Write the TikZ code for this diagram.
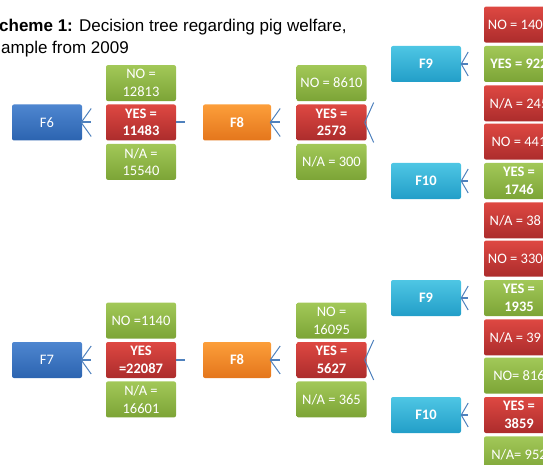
\documentclass[tikz,border=0pt]{standalone}
\usepackage{fontspec}
\setmainfont{Carlito}
\newfontfamily\titlefont{Liberation Sans}
\usepackage{tikz}
\usetikzlibrary{positioning}

\definecolor{greentop}{RGB}{162,200,88}
\definecolor{greenbot}{RGB}{124,164,54}
\definecolor{redtop}{RGB}{222,72,66}
\definecolor{redbot}{RGB}{172,44,44}
\definecolor{bluetop}{RGB}{78,134,208}
\definecolor{bluebot}{RGB}{44,100,176}
\definecolor{orangetop}{RGB}{252,158,58}
\definecolor{orangebot}{RGB}{228,118,28}
\definecolor{cyantop}{RGB}{78,198,228}
\definecolor{cyanbot}{RGB}{34,158,200}
\definecolor{linkblue}{RGB}{79,129,189}

\begin{document}
\begin{tikzpicture}[x=1pt,y=-1pt,node distance=3pt]
	\tikzstyle{item}
	  =[rectangle, rounded corners=2pt, minimum width=70pt,
	  minimum height=36pt, inner sep=0pt, align=center, text=white,
	  font=\fontsize{14.5}{17.5}\selectfont]
	\tikzstyle{bold}
	  =[font=\fontsize{14.5}{17.5}\selectfont\bfseries]
	\tikzstyle{itemgreen}=[item, top color=greentop, bottom color=greenbot]
	\tikzstyle{itemred}=[item, top color=redtop, bottom color=redbot]
	\tikzstyle{qblue}=[item, top color=bluetop, bottom color=bluebot]
	\tikzstyle{qorange}=[item, bold, minimum width=68pt,
	  top color=orangetop, bottom color=orangebot]
	\tikzstyle{qcyan}=[item, bold, top color=cyantop, bottom color=cyanbot]
	\tikzstyle{link}=[draw=linkblue, line width=1pt]
	\tikzstyle{stem}=[draw=linkblue, line width=2pt]

	\useasboundingbox (0,0) rectangle (543,465);
	\clip (0,0) rectangle (543,465);

	% title
	\node[anchor=base west, inner sep=0pt,
	  font=\titlefont\fontsize{17}{22}\selectfont] (title1)
	  at (-1,32) {\textbf{cheme 1:} Decision tree regarding pig welfare,};
	\node[anchor=base west, inner sep=0pt,
	  font=\titlefont\fontsize{17}{22}\selectfont] (title2)
	  at (1,54) {ample from 2009};

	% upper tree
	\node[qblue] (F6) at (47,122.5) {F6};
	\node[itemred,bold] (Y6) at (141,122.5) {YES =\\11483};
	\node[itemgreen] (N6)
	  [above=of Y6] {NO =\\12813};
	\node[itemgreen] (A6)
	  [below=of Y6] {N/A =\\15540};

	\node[qorange] (F8) at (237,122.5) {F8};
	\node[itemred,bold] (Y8) at (331.5,122.5) {YES =\\2573};
	\node[itemgreen] (N8)
	  [above=of Y8] {NO = 8610};
	\node[itemgreen] (A8)
	  [below=of Y8] {N/A = 300};

	\node[qcyan] (F9) at (426,64) {F9};
	\node[itemgreen,bold] (Y9) at (519,64) {YES = 922};
	\node[itemred] (N9)
	  [above=of Y9] {NO = 140\phantom{0}};
	\node[itemred] (A9)
	  [below=of Y9] {N/A = 245};

	\node[qcyan] (F10) at (426,181) {F10};
	\node[itemgreen,bold] (Y10) at (519,181) {YES =\\1746};
	\node[itemred] (N10)
	  [above=of Y10] {NO = 441};
	\node[itemred] (A10)
	  [below=of Y10] {N/A = 38\phantom{0}};

	% lower tree
	\node[qblue] (F7) at (47,360) {F7};
	\node[itemred,bold] (Y7) at (141,360) {YES\\=22087};
	\node[itemgreen] (N7)
	  [above=of Y7] {NO =1140};
	\node[itemgreen] (A7)
	  [below=of Y7] {N/A =\\16601};

	\node[qorange] (F8b) at (237,360) {F8};
	\node[itemred,bold] (Y8b) at (331.5,360) {YES =\\5627};
	\node[itemgreen] (N8b)
	  [above=of Y8b] {NO =\\16095};
	\node[itemgreen] (A8b)
	  [below=of Y8b] {N/A = 365};

	\node[qcyan] (F9b) at (426,298) {F9};
	\node[itemgreen,bold] (Y9b) at (519,298) {YES =\\1935};
	\node[itemred] (N9b)
	  [above=of Y9b] {NO = 330\phantom{0}};
	\node[itemred] (A9b)
	  [below=of Y9b] {N/A = 39\phantom{0}};

	\node[qcyan] (F10b) at (426,415) {F10};
	\node[itemred,bold] (Y10b) at (519,415) {YES =\\3859};
	\node[itemgreen] (N10b)
	  [above=of Y10b] {NO= 816};
	\node[itemgreen] (A10b)
	  [below=of Y10b] {N/A= 952};

	% connectors
	\foreach \f in {F6,F7,F8,F8b}{
	  \draw[link] ([xshift=-1pt]\f.east) -- +(10,-14);
	  \draw[link] ([xshift=-1pt]\f.east) -- +(10,14);
	  \draw[stem] ([xshift=-1pt]\f.east) -- +(10,0);
	}
	\foreach \f in {F9,F10,F9b,F10b}{
	  \draw[link] (\f.east) -- +(7,-12);
	  \draw[link] (\f.east) -- +(7,12);
	  \draw[stem] (\f.east) -- +(7,0);
	}
	\foreach \y in {Y6,Y7}
	  \draw[stem] (\y.east) -- +(9,0);
	\foreach \y in {Y8,Y8b}{
	  \draw[link] ([xshift=-2pt]\y.east) -- +(9,-20);
	  \draw[link] ([xshift=-2pt]\y.east) -- +(9,20);
	}
\end{tikzpicture}
\end{document}
